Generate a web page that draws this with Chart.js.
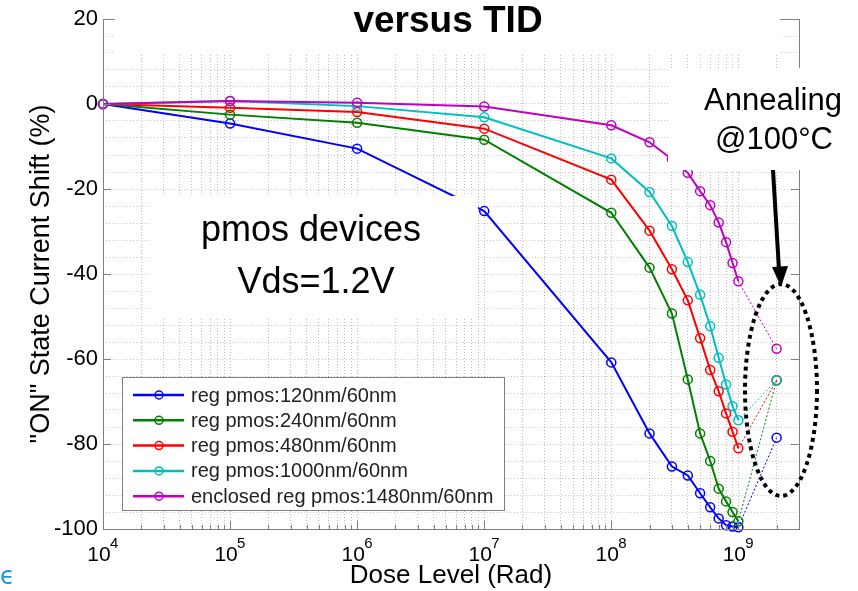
<!DOCTYPE html>
<html>
<head>
<meta charset="utf-8">
<script src="https://cdn.jsdelivr.net/npm/chart.js@4.4.0/dist/chart.umd.min.js"></script>
<style>
  html, body { margin: 0; padding: 0; background: #fff; }
  #wrap { width: 858px; height: 591px; position: relative; }
</style>
</head>
<body>
<div id="wrap"><canvas id="tidChart"></canvas></div>
<script>
// dose levels (Rad); the last point is the one after annealing at 100°C
const doses = [1e4, 1e5, 1e6, 1e7, 1e8, 2e8, 3e8, 4e8, 5e8, 6e8, 7e8, 8e8, 9e8, 1e9, 2e9];

// "ON" state current shift (%) per device
const pmos120 = [0, -4.6, -10.5, -25.2, -60.8, -77.5, -85.3, -87.4, -91.6, -94.9, -97.5, -99.1, -99.4, -99.6, -78.5];
const pmos240 = [0, -2.5, -4.4, -8.4, -25.6, -38.5, -49.3, -64.8, -77.5, -84.0, -90.5, -93.5, -96.0, -98.2, -65.0];
const pmos480 = [0, -0.9, -1.9, -5.8, -17.8, -29.8, -38.9, -46.2, -55.1, -62.6, -67.6, -72.8, -77.1, -81.0, -65.0];
const pmos1000 = [0, 0.7, -0.5, -3.1, -12.8, -20.7, -28.7, -37.2, -44.9, -52.3, -59.7, -66.0, -71.1, -74.4, -65.0];
const enclosed1480 = [0, 0.7, 0.3, -0.6, -5.0, -9.0, -13.0, -16.2, -20.5, -23.8, -27.9, -32.5, -37.4, -41.7, -57.6];

const seriesLabels = [
    'reg pmos:120nm/60nm',
    'reg pmos:240nm/60nm',
    'reg pmos:480nm/60nm',
    'reg pmos:1000nm/60nm',
    'enclosed reg pmos:1480nm/60nm'
];
const seriesData = [pmos120, pmos240, pmos480, pmos1000, enclosed1480];
const seriesColors = ['#0000ff', '#008000', '#ff0000', '#00bfbf', '#bf00bf'];

// axis ticks
const yMajorTicks = [20, 0, -20, -40, -60, -80, -100];
const xDecades = [4, 5, 6, 7, 8, 9];
const xTickBase = '10';

const FONT = '"Liberation Sans", Arial, sans-serif';

// every minor/major position of the log axis (1..9 x 10^n)
const xGridValues = [];
xDecades.forEach(e => {
    for (let m = 1; m <= 9; m++) {
        const v = m * Math.pow(10, e);
        if (v <= 3e9) xGridValues.push(v);
    }
});

const lastIdx = doses.length - 1;

const datasets = seriesData.map((vals, i) => ({
    label: seriesLabels[i],
    data: doses.map((d, k) => ({ x: d, y: vals[k] })),
    borderColor: seriesColors[i],
    backgroundColor: seriesColors[i],
    borderWidth: 2,
    pointRadius: 4.5,
    pointBorderWidth: 1.5,
    pointBackgroundColor: 'rgba(0,0,0,0)',
    pointBorderColor: seriesColors[i],
    tension: 0,
    clip: false,
    order: seriesData.length - 1 - i,
    // the annealing step is drawn as a thin dotted segment
    segment: {
        borderWidth: ctx => ctx.p1DataIndex === lastIdx ? 1 : undefined,
        borderDash: ctx => ctx.p1DataIndex === lastIdx ? [2, 2] : undefined
    }
}));

function isDecade(v) {
    const e = Math.log10(v);
    return Math.abs(e - Math.round(e)) < 1e-9;
}

// box, inward ticks, exponents, legend and the slide overlays
const slideOverlay = {
    id: 'slideOverlay',
    beforeDraw(chart) {
        const ctx = chart.ctx;
        ctx.save();
        ctx.fillStyle = '#fff';
        ctx.fillRect(0, 0, chart.width, chart.height);
        ctx.restore();
    },
    afterDatasetsDraw(chart) {
        const { ctx, chartArea: a, scales: { x, y } } = chart;
        ctx.save();

        // axes box
        ctx.strokeStyle = '#7f7f7f';
        ctx.lineWidth = 1;
        ctx.strokeRect(Math.round(a.left) + 0.5, Math.round(a.top) + 0.5,
            Math.round(a.right - a.left), Math.round(a.bottom - a.top));

        // inward ticks
        ctx.beginPath();
        yMajorTicks.forEach(v => {
            const py = Math.round(y.getPixelForValue(v)) + 0.5;
            ctx.moveTo(a.left, py); ctx.lineTo(a.left + 8, py);
            ctx.moveTo(a.right, py); ctx.lineTo(a.right - 8, py);
        });
        xGridValues.forEach(v => {
            const px = Math.round(x.getPixelForValue(v)) + 0.5;
            const len = isDecade(v) ? 8 : 4;
            ctx.moveTo(px, a.bottom); ctx.lineTo(px, a.bottom - len);
            ctx.moveTo(px, a.top); ctx.lineTo(px, a.top + len);
        });
        ctx.stroke();

        // exponents of the x tick labels
        ctx.fillStyle = '#000';
        ctx.font = '15px ' + FONT;
        ctx.textAlign = 'left';
        ctx.textBaseline = 'top';
        xDecades.forEach(e => {
            const px = x.getPixelForValue(Math.pow(10, e));
            ctx.fillText(String(e), px + 7, a.bottom + 7);
        });

        // legend
        const lg = { left: 122, top: 377, right: 504, bottom: 510 };
        ctx.fillStyle = '#fff';
        ctx.fillRect(lg.left, lg.top, lg.right - lg.left, lg.bottom - lg.top);
        ctx.strokeStyle = '#808080';
        ctx.strokeRect(lg.left + 0.5, lg.top + 0.5, lg.right - lg.left, lg.bottom - lg.top);
        ctx.font = '20px ' + FONT;
        ctx.textBaseline = 'middle';
        ctx.textAlign = 'left';
        seriesLabels.forEach((lab, i) => {
            const ry = 395 + i * 25.3;
            ctx.strokeStyle = seriesColors[i];
            ctx.lineWidth = 2.5;
            ctx.beginPath();
            ctx.moveTo(133, ry); ctx.lineTo(184, ry);
            ctx.stroke();
            ctx.lineWidth = 1.5;
            ctx.beginPath();
            ctx.arc(159, ry, 4, 0, Math.PI * 2);
            ctx.stroke();
            ctx.fillStyle = '#222';
            ctx.fillText(lab, 191, ry + 1);
        });

        // white text boxes pasted over the plot
        ctx.fillStyle = '#fff';
        ctx.fillRect(115, 0, 665, 55);
        ctx.fillRect(668, 68, 190, 102);
        ctx.fillRect(150, 196, 328, 122);

        ctx.fillStyle = '#000';
        ctx.textAlign = 'center';
        ctx.textBaseline = 'alphabetic';
        ctx.font = 'bold 37px ' + FONT;
        ctx.fillText('versus TID', 448, 32);

        ctx.font = '36px ' + FONT;
        ctx.fillText('pmos devices', 311, 241);
        ctx.fillText('Vds=1.2V', 316, 293);

        ctx.font = '31px ' + FONT;
        ctx.fillText('Annealing', 773, 110);
        ctx.fillText('@100°C', 774, 149);

        // arrow
        ctx.strokeStyle = '#000';
        ctx.lineWidth = 4;
        ctx.beginPath();
        ctx.moveTo(773, 170); ctx.lineTo(779, 270);
        ctx.stroke();
        ctx.beginPath();
        ctx.moveTo(772, 267); ctx.lineTo(788, 266); ctx.lineTo(781, 287);
        ctx.closePath();
        ctx.fill();

        // dotted ellipse round the annealed points
        ctx.lineWidth = 4;
        ctx.setLineDash([4, 4]);
        ctx.beginPath();
        ctx.ellipse(781, 390, 36, 106, 0, 0, Math.PI * 2);
        ctx.stroke();
        ctx.setLineDash([]);

        // stray glyph from the slide at the bottom left
        ctx.fillStyle = '#1b9ad6';
        ctx.textAlign = 'left';
        ctx.font = '24px "DejaVu Sans", sans-serif';
        ctx.fillText('ϵ', 0, 584);

        ctx.restore();
    }
};

function initializeChart() {
    const c = document.getElementById('tidChart').getContext('2d');
    new Chart(c, {
        type: 'line',
        data: { datasets: datasets },
        options: {
            responsive: true,
            maintainAspectRatio: false,
            animation: false,
            layout: { padding: { left: 0, right: 59, top: 19, bottom: 0 } },
            plugins: {
                legend: { display: false },
                tooltip: { enabled: false }
            },
            scales: {
                x: {
                    type: 'logarithmic',
                    min: 1e4,
                    max: 3e9,
                    afterBuildTicks: s => { s.ticks = xGridValues.map(v => ({ value: v })); },
                    afterFit: s => { s.height = 62; },
                    ticks: {
                        autoSkip: false,
                        maxRotation: 0,
                        padding: 14,
                        labelOffset: -4,
                        color: '#000',
                        font: { family: FONT, size: 21 },
                        callback: v => isDecade(v) ? xTickBase : ''
                    },
                    grid: { color: 'rgba(0,0,0,0.26)', drawTicks: false, lineWidth: 1 },
                    border: { display: false, dash: [1, 2] },
                    title: {
                        display: true,
                        text: 'Dose Level (Rad)',
                        color: '#000',
                        font: { family: FONT, size: 26, lineHeight: 1.1 },
                        padding: { top: 0, bottom: 1 }
                    }
                },
                y: {
                    min: -100,
                    max: 20,
                    afterFit: s => { s.width = 103; },
                    ticks: {
                        stepSize: 4,
                        autoSkip: false,
                        padding: 5,
                        color: '#000',
                        font: { family: FONT, size: 22 },
                        callback: v => yMajorTicks.includes(v) ? String(v) : ''
                    },
                    grid: { color: 'rgba(0,0,0,0.2)', drawTicks: false, lineWidth: 1 },
                    border: { display: false, dash: [1, 2] },
                    title: {
                        display: true,
                        text: '"ON" State Current Shift (%)',
                        color: '#000',
                        font: { family: FONT, size: 27, lineHeight: 1.2 },
                        padding: { top: 25, bottom: 0 }
                    }
                }
            }
        },
        plugins: [slideOverlay]
    });
}

document.addEventListener('DOMContentLoaded', initializeChart);
</script>
</body>
</html>
